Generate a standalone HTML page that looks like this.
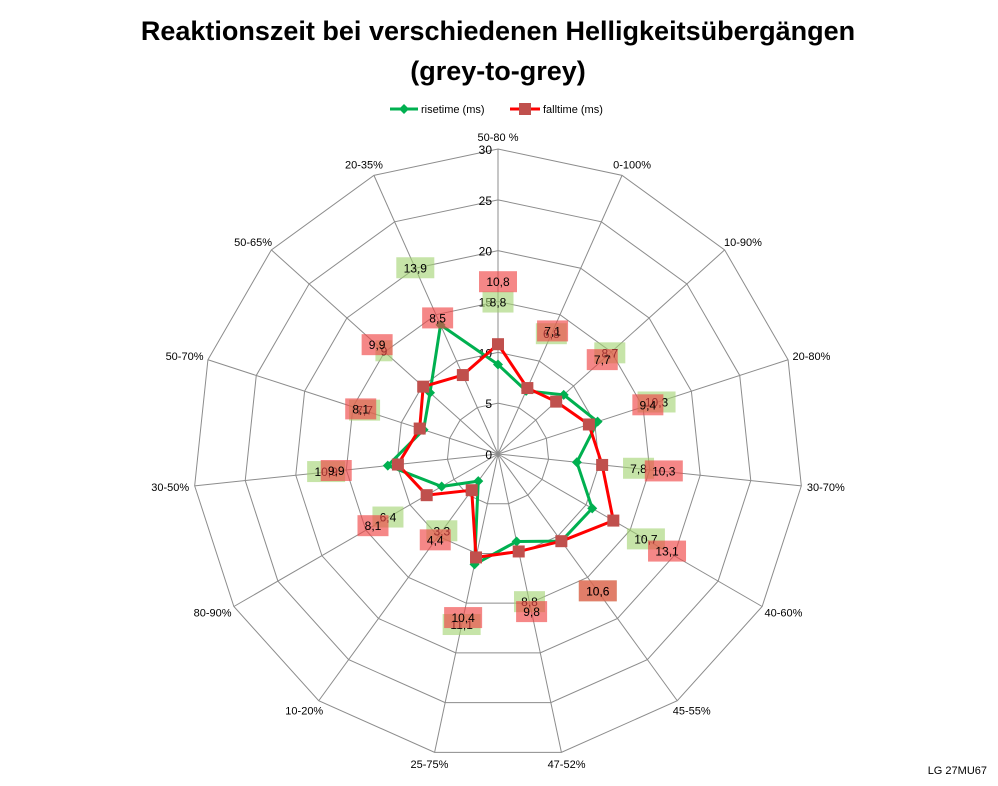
<!DOCTYPE html>
<html><head><meta charset="utf-8">
<style>
body{margin:0;background:#fff;}
svg{display:block;font-family:"Liberation Sans",sans-serif;}
</style></head>
<body>
<svg id="chart" width="998" height="786" viewBox="0 0 998 786" xmlns="http://www.w3.org/2000/svg">
<text x="498" y="40" text-anchor="middle" font-size="27" font-weight="bold">Reaktionszeit bei verschiedenen Helligkeitsübergängen</text>
<text x="498" y="80" text-anchor="middle" font-size="27" font-weight="bold">(grey-to-grey)</text>
<g>
<g>
<line x1="390" y1="109" x2="418" y2="109" stroke="#00b050" stroke-width="3"/>
<path d="M404 104 L409 109 L404 114 L399 109Z" fill="#00b050"/>
<text x="421" y="113" font-size="11">risetime (ms)</text>
</g>
<g>
<line x1="510" y1="109" x2="540" y2="109" stroke="#ff0000" stroke-width="3"/>
<rect x="519" y="103" width="12" height="12" fill="#c0504d"/>
<text x="543" y="113" font-size="11">falltime (ms)</text>
</g>
</g>
<g id="grid"></g>
<g id="series"></g>
<g id="labels"></g>
<text x="987" y="774" text-anchor="end" font-size="11">LG 27MU67</text>
</svg>
<script>
const categories=["50-80 %","0-100%","10-90%","20-80%","30-70%","40-60%","45-55%","47-52%","25-75%","10-20%","80-90%","30-50%","50-70%","50-65%","20-35%"];
const riseValues=[8.8,6.8,8.7,10.3,7.8,10.7,10.6,8.8,11.1,3.3,6.4,10.9,7.7,9,13.9];
const fallValues=[10.8,7.1,7.7,9.4,10.3,13.1,10.6,9.8,10.4,4.4,8.1,9.9,8.1,9.9,8.5];
const riseLabels=["8,8","6,8","8,7","10,3","7,8","10,7","10,6","8,8","11,1","3,3","6,4","10,9","7,7","9","13,9"];
const fallLabels=["10,8","7,1","7,7","9,4","10,3","13,1","10,6","9,8","10,4","4,4","8,1","9,9","8,1","9,9","8,5"];
const tickValues=[0,5,10,15,20,25,30];
const tickLabels=["0","5","10","15","20","25","30"];
const NS="http://www.w3.org/2000/svg";
const CX=498,CY=454,R=305,MAX=30;
const n=categories.length;
function ang(i){return i*2*Math.PI/n;}
function pt(i,v){const a=ang(i),r=v/MAX*R;return [CX+Math.sin(a)*r,CY-Math.cos(a)*r];}
function mk(tag,attrs,parent){const e=document.createElementNS(NS,tag);for(const k in attrs)e.setAttribute(k,attrs[k]);parent.appendChild(e);return e;}
const grid=document.getElementById('grid'),ser=document.getElementById('series'),lab=document.getElementById('labels');
tickValues.forEach((t,k)=>{if(t===0)return;
 const p=[];for(let i=0;i<n;i++)p.push(pt(i,t).join(','));
 const g=mk('polygon',{points:p.join(' '),fill:'none',stroke:'#8c8c8c','stroke-width':1},grid);
 
 
});
for(let i=0;i<n;i++){const [x,y]=pt(i,MAX);
 const l=mk('line',{x1:CX,y1:CY,x2:x,y2:y,stroke:'#8c8c8c','stroke-width':1},grid);
 
 
 const a=ang(i),s=Math.sin(a),c=-Math.cos(a);const w=categories[i].length*6.2,h=12;
 const tx=x+s*6+s*w/2, ty=y+c*6+c*h/2+4;
 const t=mk('text',{x:tx,y:ty,'text-anchor':'middle','font-size':11},grid);t.textContent=categories[i];
 
 
}
tickValues.forEach((t,k)=>{const [x,y]=pt(0,t);
 const e=mk('text',{x:x-6,y:y+5,'text-anchor':'end','font-size':12},grid);e.textContent=tickLabels[k];
 
 
});
function drawSeries(vals,color,mcolor,marker,name){
 const pts=vals.map((v,i)=>pt(i,v));
 const pl=mk('polygon',{points:pts.map(p=>p.join(',')).join(' '),fill:'none',stroke:color,'stroke-width':3,'stroke-linejoin':'round'},ser);
 
 
 pts.forEach(([x,y])=>{let m;
  if(marker==='d')m=mk('path',{d:`M${x} ${y-5}L${x+5} ${y}L${x} ${y+5}L${x-5} ${y}Z`,fill:mcolor},ser);
  else m=mk('rect',{x:x-6,y:y-6,width:12,height:12,fill:mcolor},ser);
  
  
 });
}
drawSeries(riseValues,'#00b050','#00b050','d','risetime');
drawSeries(fallValues,'#ff0000','#c0504d','s','falltime');
function drawLabels(vals,texts,bg,name){
 vals.forEach((v,i)=>{const a=ang(i);const [x0,y0]=pt(i,v);const x=x0+Math.sin(a)*62,y=y0-Math.cos(a)*62;
  const w=texts[i].length*7+10;
  const r=mk('rect',{x:x-w/2,y:y-11,width:w,height:21,fill:bg},lab);
  
  
  const t=mk('text',{x:x,y:y+4,'text-anchor':'middle','font-size':12},lab);t.textContent=texts[i];
  
  
 });
}
drawLabels(riseValues,riseLabels,'rgba(160,210,110,0.6)','risetime');
drawLabels(fallValues,fallLabels,'rgba(240,70,70,0.65)','falltime');
</script>
</body></html>
